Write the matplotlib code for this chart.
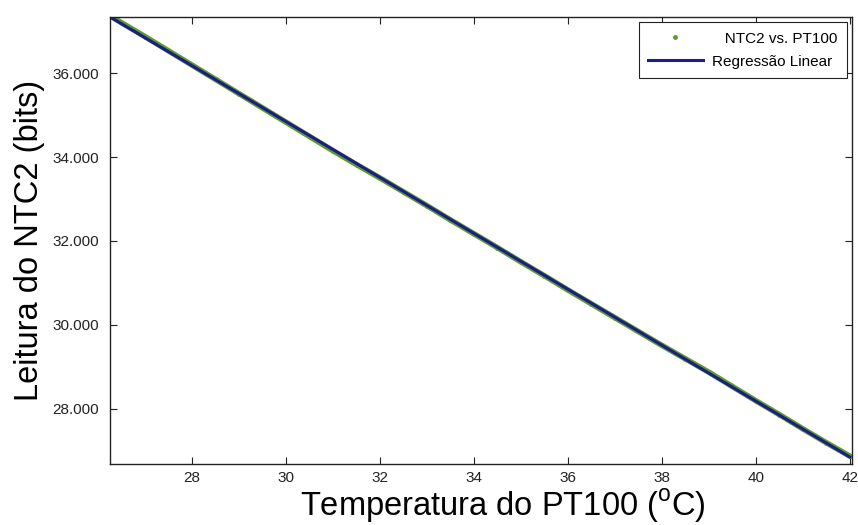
import numpy as np
import matplotlib
matplotlib.use('Agg')
import matplotlib.pyplot as plt
from matplotlib.ticker import FuncFormatter

plt.rcParams['font.family'] = ['Liberation Sans', 'DejaVu Sans']
plt.rcParams['mathtext.fontset'] = 'custom'
plt.rcParams['mathtext.rm'] = 'Liberation Sans'

# Dados: temperatura do PT100 (°C) e leitura do NTC2 (bits)
temperatura = [26.25, 26.5, 27.0, 27.5, 28.0, 28.5, 29.0, 29.5, 30.0, 30.5,
               31.0, 31.5, 32.0, 32.5, 33.0, 33.5, 34.0, 34.5, 35.0, 35.5,
               36.0, 36.5, 37.0, 37.5, 38.0, 38.5, 39.0, 39.5, 40.0, 40.5,
               41.0, 41.5, 42.0]
leitura = [37370, 37200, 36870, 36530, 36190, 35850, 35510, 35170, 34830, 34490,
           34150, 33820, 33500, 33170, 32840, 32500, 32170, 31840, 31500, 31170,
           30830, 30500, 30170, 29840, 29510, 29190, 28870, 28530, 28190, 27860,
           27520, 27190, 26870]

t = np.array(temperatura)
y = np.array(leitura)

# Regressão linear
coef = np.polyfit(t, y, 1)
t_fit = np.array([t.min(), t.max()])
y_fit = np.polyval(coef, t_fit)

fig = plt.figure(figsize=(8.58, 5.25), dpi=100)
ax = fig.add_axes([110 / 858, 1 - 464 / 525, 742 / 858, 447 / 525])

ax.plot(t, y, '-', color='#5a9e2a', lw=4, solid_capstyle='round')
ax.plot(t, y, '.', color='#5a9e2a', ms=5, ls='none', label='   NTC2 vs. PT100')
ax.plot(t_fit, y_fit, '-', color='#1c1c8a', lw=2.2, label='Regressão Linear')

ax.set_xlim(26.25, 42.05)
ax.set_ylim(26680, 37340)
ax.set_xticks([28, 30, 32, 34, 36, 38, 40, 42])
ax.set_yticks([28000, 30000, 32000, 34000, 36000])
ax.yaxis.set_major_formatter(FuncFormatter(lambda v, p: f'{v:,.0f}'.replace(',', '.')))

ax.tick_params(direction='in', top=True, right=True, length=5, width=0.8,
               labelsize=11, colors='#222222')
ax.tick_params(axis='y', pad=8)
ax.tick_params(axis='x', pad=5)
for s in ax.spines.values():
    s.set_linewidth(1.0)
    s.set_color('#222222')

ax.set_xlabel(r'Temperatura do PT100 ($^{\mathrm{o}}$C)', fontsize=23.5, labelpad=0)
ax.xaxis.set_label_coords(0.53, -0.052, transform=ax.transAxes)
ax.xaxis.label.set_va('top')
ax.set_ylabel('Leitura do NTC2 (bits)', fontsize=23.5, labelpad=5)

leg = ax.legend(loc='upper right', fontsize=11, fancybox=False, framealpha=1,
                edgecolor='#222222', borderaxespad=0.35, handlelength=3.6,
                borderpad=0.6, labelspacing=0.6, handletextpad=0.6)
leg.get_frame().set_linewidth(0.8)

fig.savefig('out.png', dpi=100)
